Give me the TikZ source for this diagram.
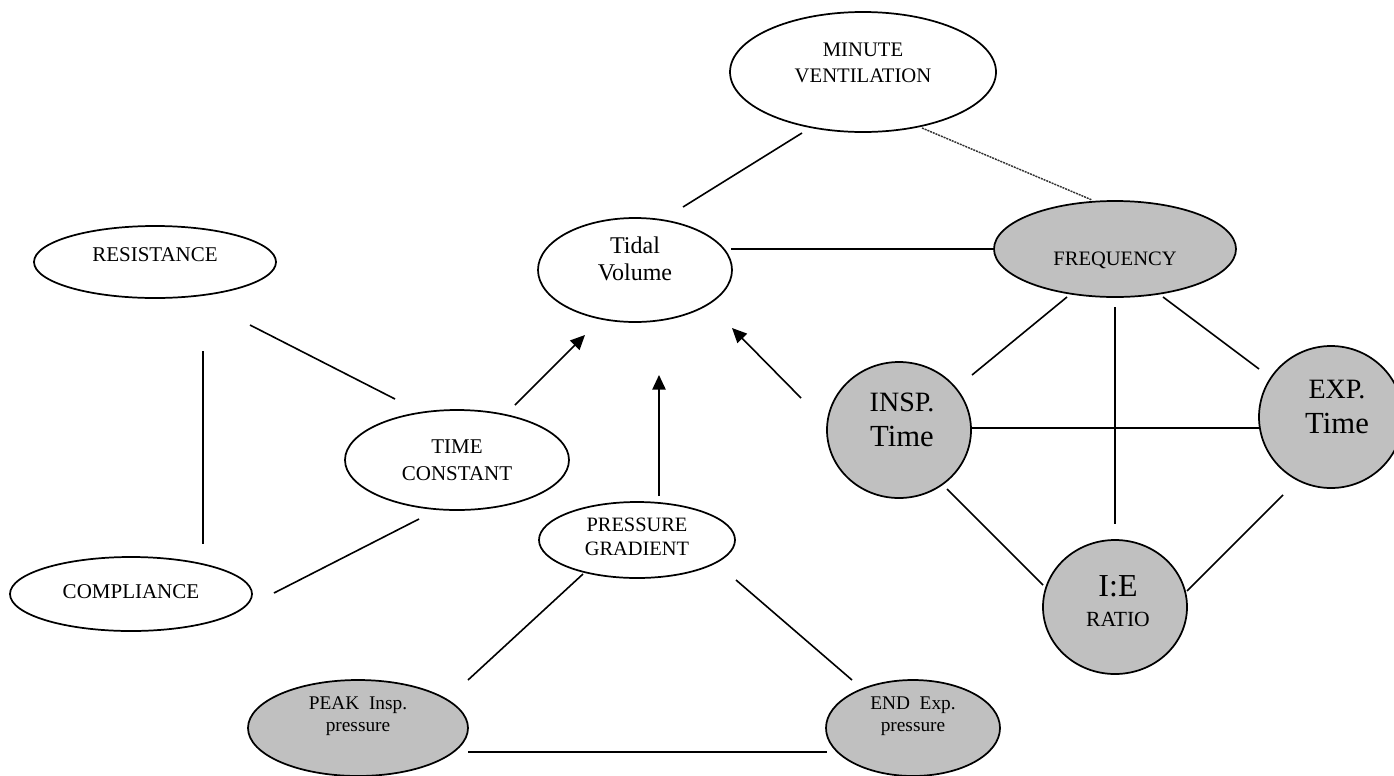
\documentclass[tikz,border=0pt]{standalone}
\usepackage{fontspec}
\setmainfont{Liberation Serif}
\usetikzlibrary{shapes.geometric,arrows.meta,calc}
\definecolor{fillgray}{RGB}{192,192,192}
\begin{document}
\begin{tikzpicture}[x=0.75pt,y=-0.75pt,
  oval/.style={ellipse, draw, line width=1.3pt, inner sep=0pt, fill=white},
  goval/.style={oval, fill=fillgray},
  sz/.style 2 args={minimum width=#1*1.5pt, minimum height=#2*1.5pt},
  lbl/.style={align=center, inner sep=0pt},
  link/.style={line width=1.2pt},
  arr/.style={link, -{Triangle[length=11pt,width=10pt]}},
  dotlink/.style={line width=1.1pt, draw=black!80, dash pattern=on 1.5pt off 0.7pt}]
\useasboundingbox (0,0) rectangle (1394,775);

% shapes
\node[oval, sz={133}{60}] (mv) at (863,72) {};
\node[oval, sz={97}{52}] (tv) at (635,270) {};
\node[goval, sz={121}{48}] (fq) at (1115,249) {};
\node[oval, sz={121}{36}] (rs) at (155,262) {};
\node[oval, sz={121}{37}] (cp) at (131,594) {};
\node[oval, sz={112}{50}] (tc) at (457,460) {};
\node[oval, sz={98}{38}] (pg) at (637,540) {};
\node[goval, sz={72}{68}] (insp) at (899,430) {};
\node[goval, sz={72}{71}] (exp) at (1331,417) {};
\node[goval, sz={72}{67}] (ie) at (1115,607) {};
\node[goval, sz={110}{48}] (pk) at (358,728) {};
\node[goval, sz={87}{48}] (en) at (913,728) {};

% texts
\node[lbl, font=\fontsize{15.5}{19.5}\selectfont] (mvt) at ($(mv)+(0,-9)$) {MINUTE\\VENTILATION};
\node[lbl, font=\fontsize{18}{20.5}\selectfont] (tvt) at ($(tv)+(0,-11)$) {Tidal\\Volume};
\node[lbl, font=\fontsize{15.4}{19}\selectfont] (fqt) at ($(fq)+(0,11)$) {FREQUENCY};
\node[lbl, font=\fontsize{15.75}{19}\selectfont] (rst) at ($(rs)+(0,-7)$) {RESISTANCE};
\node[lbl, font=\fontsize{15.75}{19}\selectfont] (cpt) at ($(cp)+(0,-2)$) {COMPLIANCE};
\node[lbl, font=\fontsize{15.75}{20}\selectfont] (tct) at ($(tc)+(0,0)$) {TIME\\CONSTANT};
\node[lbl, font=\fontsize{15.3}{18}\selectfont] (pgt) at ($(pg)+(0,-3)$) {PRESSURE\\GRADIENT};
\node[lbl, font=\fontsize{23}{26.5}\selectfont] (inspt) at ($(insp)+(3,-10)$) {{\fontsize{21}{25}\selectfont INSP.}\\Time};
\node[lbl, font=\fontsize{23}{26.5}\selectfont] (expt) at ($(exp)+(6,-10)$) {{\fontsize{21}{25}\selectfont EXP.}\\Time};
\node[lbl, font=\fontsize{24}{22}\selectfont] (iet) at ($(ie)+(3,-6)$) {I:E\\{\fontsize{16.2}{18}\selectfont RATIO}};
\node[lbl, font=\fontsize{14.5}{16.5}\selectfont] (pkt) at ($(pk)+(0,-12)$) {PEAK\ \ Insp.\\pressure};
\node[lbl, font=\fontsize{14.5}{16.5}\selectfont] (ent) at ($(en)+(0,-12)$) {END\ \ Exp.\\pressure};

% connectors
\draw[link] ($(mv)+(-61,61)$) -- ($(tv)+(48,-63)$);
\draw[dotlink] ($(mv)+(59,56)$) -- ($(fq)+(-23,-49)$);
\draw[link] ($(tv)+(96,-21)$) -- ($(fq)+(-120,0)$);
\draw[link] ($(rs)+(95,63)$) -- ($(tc)+(-62,-61)$);
\draw[link] ($(rs)+(48,89)$) -- ($(cp)+(72,-50)$);
\draw[link] ($(cp)+(143,-1)$) -- ($(tc)+(-38,59)$);
\draw[arr] ($(tc)+(58,-55)$) -- ($(tv)+(-50,65)$);
\draw[arr] ($(pg)+(22,-44)$) -- ($(tv)+(24,105)$);
\draw[arr] ($(insp)+(-98,-32)$) -- ($(tv)+(97,58)$);
\draw[link] ($(fq)+(-48,48)$) -- ($(insp)+(73,-55)$);
\draw[link] ($(fq)+(0,58)$) -- ($(ie)+(0,-83)$);
\draw[link] ($(fq)+(48,48)$) -- ($(exp)+(-72,-48)$);
\draw[link] ($(insp)+(73,-2)$) -- ($(exp)+(-72,11)$);
\draw[link] ($(insp)+(48,59)$) -- ($(ie)+(-72,-22)$);
\draw[link] ($(exp)+(-48,78)$) -- ($(ie)+(72,-16)$);
\draw[link] ($(pg)+(-54,34)$) -- ($(pk)+(110,-48)$);
\draw[link] ($(pg)+(99,40)$) -- ($(en)+(-61,-48)$);
\draw[link] ($(pk)+(110,24)$) -- ($(en)+(-86,24)$);
\end{tikzpicture}
\end{document}
